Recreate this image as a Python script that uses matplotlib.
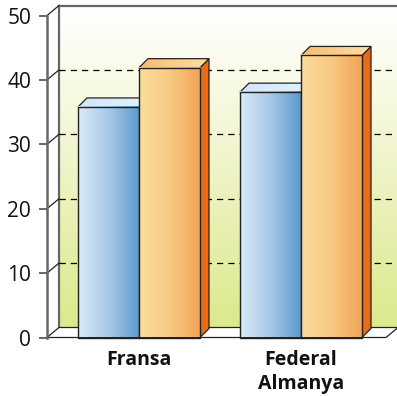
import numpy as np
import matplotlib
matplotlib.use("Agg")
import matplotlib.pyplot as plt
from matplotlib.colors import LinearSegmentedColormap
from matplotlib.patches import Polygon

plt.rcParams['font.family'] = ['Open Sans', 'DejaVu Sans']

# data
categories = ["Fransa", "Federal\nAlmanya"]
blue_values = [35.8, 38.1]
orange_values = [41.9, 43.8]
y_ticks = [0, 10, 20, 30, 40, 50]

# scale: pixels of the reference
W, H = 397, 396
Y0_PX, PX_PER_UNIT = 337.5, 6.44
CAT_PX = 162.0
CAT0_PX = 139.0

BAR_W = 61 / CAT_PX
DEPTH_X, DEPTH_Y = 12 / CAT_PX, 10 / PX_PER_UNIT     # floor / wall depth
BAR_DX, BAR_DY = 9 / CAT_PX, 9 / PX_PER_UNIT         # bar depth
LEFT = (47 - CAT0_PX) / CAT_PX
RIGHT = (386 - CAT0_PX) / CAT_PX
DARK = "#222222"
GREY = "#666666"

blue_cm = LinearSegmentedColormap.from_list("b", ["#d8ebfa", "#a9c8e6", "#5a9ad0"])
orange_cm = LinearSegmentedColormap.from_list("o", ["#fbdd9f", "#f8c981", "#f1a458"])
blue_top_cm = LinearSegmentedColormap.from_list("bt", ["#cfe6f8", "#e4f2fc"])
orange_top_cm = LinearSegmentedColormap.from_list("ot", ["#f5ba72", "#fddfa6"])
wall_cm = LinearSegmentedColormap.from_list("w", ["#ffffff", "#f6f8dc", "#e9f0b4", "#dce98c"])

fig = plt.figure(figsize=(W / 100, H / 100), dpi=100)
ax = fig.add_axes([0, 0, 1, 1])
ax.set_xlim(-CAT0_PX / CAT_PX, (W - CAT0_PX) / CAT_PX)
ax.set_ylim((Y0_PX - H) / PX_PER_UNIT, Y0_PX / PX_PER_UNIT)
ax.set_axis_off()


def grad(cmap, extent, clip=None, z=1, vertical=False):
    g = np.linspace(0, 1, 128)
    g = g.reshape(-1, 1) if vertical else g.reshape(1, -1)
    im = ax.imshow(g, cmap=cmap, extent=extent, aspect="auto", zorder=z,
                   origin="upper", interpolation="bilinear")
    if clip is not None:
        clip.set_transform(ax.transData)
        im.set_clip_path(clip)


# back wall
wall_x = LEFT + DEPTH_X
wall_r = RIGHT + DEPTH_X
grad(wall_cm, (wall_x, wall_r + 0.1, DEPTH_Y, 50 + DEPTH_Y), vertical=True)
ax.plot([wall_x, wall_x], [DEPTH_Y, 50 + DEPTH_Y], color=GREY, lw=1.6, zorder=2)
ax.plot([wall_x, wall_r + 0.1], [50 + DEPTH_Y] * 2, color=GREY, lw=1.6, zorder=2)

# floor
ax.add_patch(Polygon([(LEFT, 0), (RIGHT, 0), (RIGHT + DEPTH_X, DEPTH_Y), (LEFT + DEPTH_X, DEPTH_Y)],
                     facecolor="white", edgecolor=DARK, lw=0.9, zorder=2))

# gridlines on the wall
for v in y_ticks[1:-1]:
    ax.plot([wall_x, wall_r + 0.1], [v + DEPTH_Y] * 2, color="black", lw=0.9,
            dashes=(5, 4), zorder=3)
    ax.plot([LEFT, wall_x], [v, v + DEPTH_Y], color=DARK, lw=0.9, zorder=3)
ax.plot([LEFT, wall_x], [50, 50 + DEPTH_Y], color=DARK, lw=0.9, zorder=3)

# left axis + ticks
ax.plot([LEFT, LEFT], [0, 50], color=GREY, lw=1.8, zorder=4)
for v in y_ticks:
    ax.plot([LEFT - 7 / CAT_PX, LEFT], [v, v], color=GREY, lw=1.4, zorder=4)
    ax.text(LEFT - 16 / CAT_PX, v, str(v), ha="right", va="center_baseline",
            fontsize=15, color="#111111", zorder=5)


def bar3d(x0, val, cmap, top_cmap, side, z):
    x1 = x0 + BAR_W
    # side
    ax.add_patch(Polygon([(x1, 0), (x1 + BAR_DX, BAR_DY), (x1 + BAR_DX, val + BAR_DY), (x1, val)],
                         facecolor=side, edgecolor=DARK, lw=0.9, zorder=z))
    # top
    top = Polygon([(x0, val), (x1, val), (x1 + BAR_DX, val + BAR_DY), (x0 + BAR_DX, val + BAR_DY)],
                  facecolor="none", edgecolor="none")
    ax.add_patch(top)
    grad(top_cmap, (x0, x1 + BAR_DX, val, val + BAR_DY), clip=top, z=z)
    ax.add_patch(Polygon(top.get_xy(), facecolor="none", edgecolor=DARK, lw=0.9, zorder=z + 0.1))
    # front
    grad(cmap, (x0, x1, 0, val), z=z + 0.2)
    ax.add_patch(Polygon([(x0, 0), (x1, 0), (x1, val), (x0, val)], facecolor="none",
                         edgecolor=DARK, lw=1.0, zorder=z + 0.3))


for i, cat in enumerate(categories):
    bar3d(i - BAR_W, blue_values[i], blue_cm, blue_top_cm, "#4c86bd", 6)
    bar3d(i, orange_values[i], orange_cm, orange_top_cm, "#e96b16", 7)
    ax.text(i, -1.9, cat, ha="center", va="top", fontsize=14, fontweight="bold",
            color="#111111", linespacing=1.3, zorder=8)

ax.set_xlim(-CAT0_PX / CAT_PX, (W - CAT0_PX) / CAT_PX)
ax.set_ylim((Y0_PX - H) / PX_PER_UNIT, Y0_PX / PX_PER_UNIT)
fig.savefig("out.png", dpi=100)
